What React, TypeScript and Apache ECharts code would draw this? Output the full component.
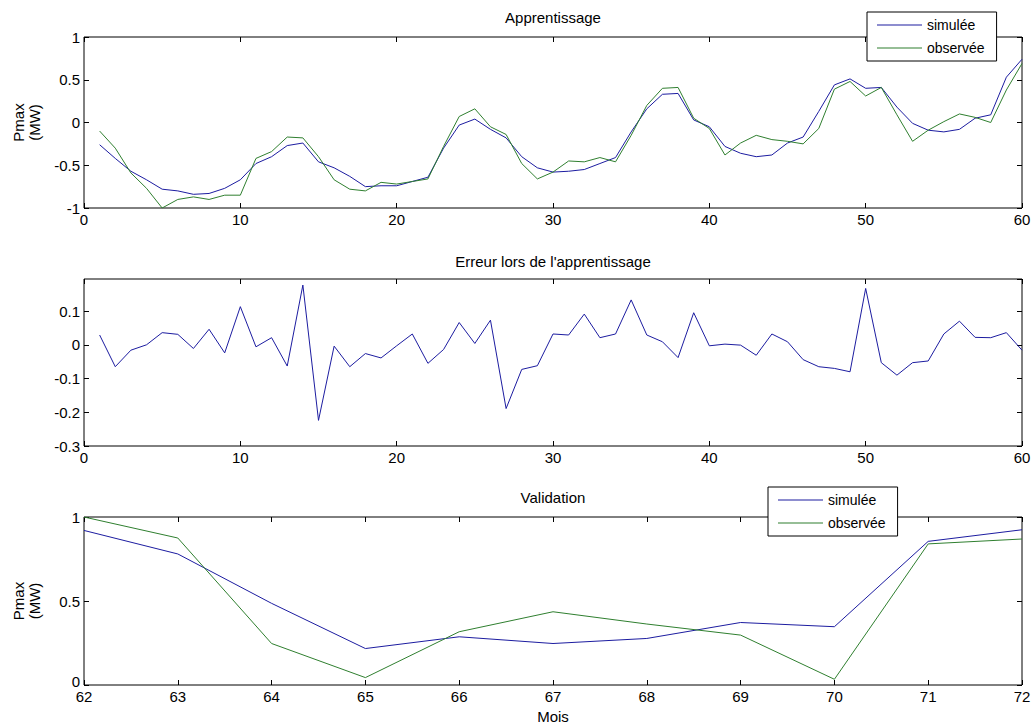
import React, { useEffect, useRef } from "react";
import * as echarts from "echarts";

// Apprentissage (mois 1..60)
const simTrain = [
  -0.26, -0.42, -0.57, -0.67, -0.78, -0.80, -0.84, -0.83, -0.77, -0.67,
  -0.48, -0.40, -0.27, -0.24, -0.46, -0.53, -0.63, -0.75, -0.74, -0.74,
  -0.69, -0.64, -0.30, -0.03, 0.04, -0.08, -0.18, -0.40, -0.53, -0.58,
  -0.57, -0.55, -0.48, -0.41, -0.11, 0.16, 0.33, 0.34, 0.03, -0.05,
  -0.28, -0.36, -0.40, -0.38, -0.24, -0.17, 0.13, 0.44, 0.51, 0.40,
  0.41, 0.18, -0.01, -0.09, -0.11, -0.08, 0.05, 0.09, 0.53, 0.74,
];
const obsTrain = [
  -0.10, -0.30, -0.59, -0.77, -1.0, -0.90, -0.87, -0.90, -0.85, -0.85,
  -0.42, -0.34, -0.17, -0.18, -0.40, -0.67, -0.78, -0.80, -0.70, -0.72,
  -0.69, -0.66, -0.28, 0.07, 0.16, -0.05, -0.14, -0.48, -0.66, -0.58,
  -0.45, -0.46, -0.41, -0.46, -0.15, 0.20, 0.40, 0.41, 0.05, -0.07,
  -0.38, -0.24, -0.15, -0.20, -0.22, -0.25, -0.07, 0.39, 0.48, 0.31,
  0.41, 0.09, -0.22, -0.09, 0.01, 0.10, 0.06, 0.00, 0.38, 0.69,
];
// Erreur lors de l'apprentissage (mois 1..60)
const errTrain = [
  0.029, -0.065, -0.016, 0.0, 0.036, 0.031, -0.011, 0.046, -0.024, 0.113,
  -0.006, 0.021, -0.063, 0.177, -0.224, -0.004, -0.065, -0.026, -0.039, -0.003,
  0.032, -0.055, -0.014, 0.066, 0.004, 0.073, -0.189, -0.073, -0.062, 0.032,
  0.029, 0.091, 0.021, 0.032, 0.133, 0.029, 0.009, -0.038, 0.095, -0.003,
  0.002, -0.001, -0.031, 0.032, 0.009, -0.044, -0.065, -0.070, -0.080, 0.167,
  -0.053, -0.090, -0.053, -0.048, 0.032, 0.070, 0.022, 0.021, 0.036, -0.016,
];
// Validation (mois 62..72)
const validMonths = [62, 63, 64, 65, 66, 67, 68, 69, 70, 71, 72];
const simValid = [0.92, 0.78, 0.486, 0.217, 0.287, 0.247, 0.277, 0.372, 0.347, 0.855, 0.924];
const obsValid = [1.0, 0.875, 0.247, 0.044, 0.317, 0.436, 0.363, 0.297, 0.034, 0.84, 0.869];

const SIM_NAME = "simulée";
const OBS_NAME = "observée";
const BLUE = "#1c1ca0";
const GREEN = "#2f7f2f";
const FONT = "Liberation Sans, Arial, sans-serif";

const trainPairs = (vals: number[]) => vals.map((v, i) => [i + 1, v]);
const validPairs = (vals: number[]) => vals.map((v, i) => [validMonths[i], v]);

const tickStyle = { show: true, inside: true, length: 5, lineStyle: { color: "#000", width: 1 } };
const labelStyle = { color: "#000", fontSize: 15, fontFamily: FONT, margin: 4 };

function xPair(gridIndex: number, min: number, max: number, interval: number, extra: any = {}) {
  return [
    {
      type: "value", gridIndex, min, max, interval, position: "bottom",
      axisLine: { show: false, onZero: false }, axisTick: tickStyle,
      axisLabel: labelStyle, splitLine: { show: false }, ...extra,
    },
    {
      type: "value", gridIndex, min, max, interval, position: "top",
      axisLine: { show: false, onZero: false }, axisTick: tickStyle,
      axisLabel: { show: false }, splitLine: { show: false },
    },
  ];
}

function yPair(gridIndex: number, min: number, max: number, interval: number, extra: any = {}) {
  const label: any = { ...labelStyle, showMaxLabel: extra.hideMax ? false : true };
  if (extra.liftMin) {
    // raise the lowest label a little so it clears the month labels below
    label.formatter = (v: number) => (v === min ? `{lo|${v}}` : `${v}`);
    label.rich = { lo: { color: "#000", fontSize: 15, fontFamily: FONT, padding: [0, 0, 7, 0] } };
  }
  return [
    {
      type: "value", gridIndex, min, max, interval, position: "left",
      axisLine: { show: false, onZero: false }, axisTick: tickStyle,
      axisLabel: label,
      splitLine: { show: false }, ...(extra.name ? {
        name: extra.name, nameLocation: "middle", nameRotate: 90, nameGap: 42,
        nameTextStyle: { color: "#000", fontSize: 15, fontFamily: FONT, lineHeight: 16 },
      } : {}),
    },
    {
      type: "value", gridIndex, min, max, interval, position: "right",
      axisLine: { show: false, onZero: false }, axisTick: tickStyle,
      axisLabel: { show: false }, splitLine: { show: false },
    },
  ];
}

function legendAt(left: number, top: number) {
  return {
    orient: "vertical", left, top,
    data: [
      { name: SIM_NAME, icon: "rect" },
      { name: OBS_NAME, icon: "rect" },
    ],
    itemWidth: 45, itemHeight: 1, itemGap: 7, padding: [5, 12, 5, 10],
    borderColor: "#000", borderWidth: 1, borderRadius: 0, backgroundColor: "#fff",
    selectedMode: false,
    textStyle: { color: "#000", fontSize: 14, fontFamily: FONT, lineHeight: 16 },
  };
}

const line = (name: string, data: number[][], color: string, axis: number) => ({
  type: "line", name, data, xAxisIndex: axis, yAxisIndex: axis,
  symbol: "none", showSymbol: false, lineStyle: { color, width: 1 }, itemStyle: { color },
});

export default function App() {
  const ref = useRef<HTMLDivElement>(null);

  useEffect(() => {
    if (!ref.current) return;
    const chart = echarts.init(ref.current, undefined, { renderer: "svg" });
    const gridBase = { left: 84, width: 938, show: true, borderColor: "#000", borderWidth: 1, backgroundColor: "transparent" };
    const titleStyle = { color: "#000", fontSize: 15, fontWeight: "normal", fontFamily: FONT };
    chart.setOption({
      animation: false,
      backgroundColor: "#fff",
      title: [
        { text: "Apprentissage", left: 553, top: 10, textAlign: "center", textStyle: titleStyle, padding: 0 },
        { text: "Erreur lors de l'apprentissage", left: 553, top: 254, textAlign: "center", textStyle: titleStyle, padding: 0 },
        { text: "Validation", left: 553, top: 490, textAlign: "center", textStyle: titleStyle, padding: 0 },
      ],
      legend: [legendAt(867, 12), legendAt(768, 487)],
      grid: [
        { ...gridBase, top: 37, height: 171 },
        { ...gridBase, top: 279, height: 167 },
        { ...gridBase, top: 517, height: 168 },
      ],
      xAxis: [
        ...xPair(0, 0, 60, 10),
        ...xPair(1, 0, 60, 10),
        ...xPair(2, 62, 72, 1, {
          name: "Mois", nameLocation: "middle", nameGap: 24,
          nameTextStyle: { color: "#000", fontSize: 15, fontFamily: FONT },
        }),
      ],
      yAxis: [
        ...yPair(0, -1, 1, 0.5, { name: "Pmax\n(MW)" }),
        ...yPair(1, -0.3, 0.195, 0.1, { hideMax: true }),
        ...yPair(2, 0, 1, 0.5, { name: "Pmax\n(MW)", liftMin: true }),
      ],
      series: [
        line(SIM_NAME, trainPairs(simTrain), BLUE, 0),
        line(OBS_NAME, trainPairs(obsTrain), GREEN, 0),
        line("erreur", trainPairs(errTrain), BLUE, 2),
        line(SIM_NAME, validPairs(simValid), BLUE, 4),
        line(OBS_NAME, validPairs(obsValid), GREEN, 4),
      ],
    });
    return () => chart.dispose();
  }, []);

  return (
    <div
      ref={ref}
      style={{ position: "absolute", left: 0, top: 0, width: 1034, height: 727, background: "#fff" }}
    />
  );
}
